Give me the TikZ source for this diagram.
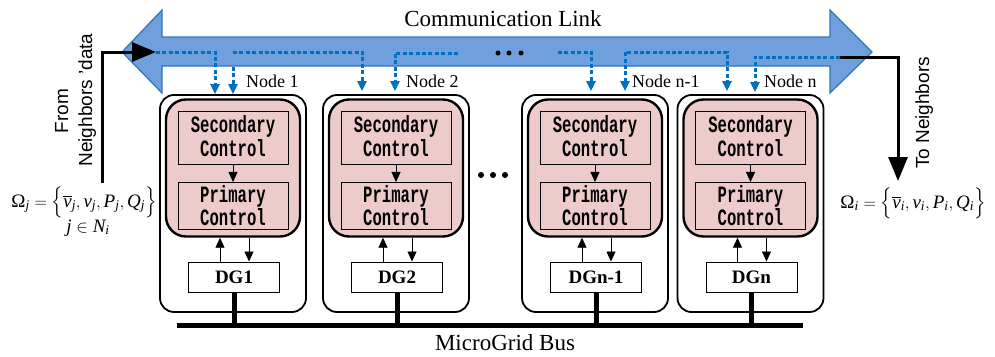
\documentclass[tikz,border=0pt]{standalone}
\usepackage{amsmath}
\usepackage{graphicx}
\usepackage{fontspec}
\setmainfont{Liberation Serif}
\newfontfamily\labelsans{Liberation Sans}
\newfontfamily\ctrlmono{Liberation Mono}
\usetikzlibrary{arrows.meta,calc}

\definecolor{linkfill}{HTML}{6F9FDC}
\definecolor{linkedge}{HTML}{2E75B6}
\definecolor{datablue}{HTML}{0070C0}
\definecolor{ctrlpink}{HTML}{EECBCB}

% two-line label of a control block, stretched upright like a CJK mono face;
% #1 lowers the lettering inside its box without changing the box
\newcommand{\ctrltext}[3]{\raisebox{-#1}[\height][\depth]{\scalebox{1}[1.5]{\begin{tabular}{@{}c@{}}#2\\#3\end{tabular}}}}

\tikzset{
  outerbox/.style={draw, line width=1.8pt, rounded corners=14pt, fill=white,
    minimum width=146pt, minimum height=217pt, inner sep=0pt},
  pinkbox/.style={draw, line width=2.4pt, rounded corners=20pt, fill=ctrlpink,
    minimum width=134pt, minimum height=137pt, inner sep=0pt},
  ctrlbox/.style={draw, line width=0.9pt, fill=ctrlpink, inner sep=0pt,
    minimum width=110pt, minimum height=53pt,
    font=\ctrlmono\bfseries\fontsize{15.6}{14.7}\selectfont},
  dgbox/.style={draw, line width=1pt, fill=white, inner sep=0pt,
    minimum width=91pt, minimum height=30pt,
    font=\bfseries\fontsize{19}{22}\selectfont},
  thinarrow/.style={line width=0.9pt, -{Triangle[length=10pt,width=9pt]}},
  stub/.style={line width=5pt},
  dataline/.style={datablue, line width=3pt, dash pattern=on 4pt off 2.4pt,
    -{Triangle[length=10pt,width=9pt]}},
  bigarrow/.style={line width=3pt, -{Triangle[length=24pt,width=19pt]}},
  nodelabel/.style={font=\fontsize{18}{20}\selectfont, anchor=base west, inner sep=0pt},
  sidetext/.style={font=\labelsans\fontsize{19}{21}\selectfont, rotate=90,
    anchor=base, inner sep=0pt},
  formula/.style={font=\fontsize{19}{22}\selectfont, anchor=base, inner sep=0pt},
  dot/.style={circle, fill=black, inner sep=0pt, minimum size=#1}
}

% one distributed-generation unit: #1 name suffix, #2 centre x, #3 DG label
\newcommand{\dgunit}[3]{%
  \node[outerbox] (unit#1) at (#2,203.5) {};
  \node[pinkbox] (ctrl#1) at (#2,168) {};
  \node[ctrlbox] (sec#1) at (#2,137.5) {\ctrltext{2pt}{Secondary}{Control}};
  \node[ctrlbox, minimum height=42pt] (pri#1) at (#2,206) {\ctrltext{3pt}{Primary}{Control}};
  \node[dgbox] (dg#1) at (#2+1,277) {#3};
  \draw[thinarrow] (sec#1) -- (pri#1);
  \draw[thinarrow] ([xshift=-14pt]dg#1.north) -- ([xshift=-14pt]dg#1.north |- ctrl#1.south);
  \draw[thinarrow] ([xshift=15pt]dg#1.north |- ctrl#1.south) -- ([xshift=15pt]dg#1.north);
  \draw[stub] (dg#1.south) -- (dg#1.south |- bus);
}

\begin{document}
\begin{tikzpicture}[x=1pt, y=-1pt]
\useasboundingbox (0,0) rectangle (995,356);

% double-headed communication link
\draw[linkedge, fill=linkfill, line width=1.2pt, line join=miter]
  (122,52) -- (162,10) -- (162,37) -- (830,37) -- (830,10) -- (872,52)
  -- (830,93) -- (830,66) -- (162,66) -- (162,93) -- cycle;
\node[font=\fontsize{23}{25}\selectfont, anchor=base, inner sep=0pt] (linktitle)
  at (503,27) {Communication Link};
\node[dot=5pt] (ld1) at (498,53) {};
\node[dot=5pt] (ld2) at (509,53) {};
\node[dot=5pt] (ld3) at (521,53) {};

% microgrid bus
\coordinate (bus) at (177,325);
\coordinate (busend) at (803,325);
\draw[line width=5pt] (bus) -- (busend);
\node[font=\fontsize{23}{25}\selectfont, anchor=base, inner sep=0pt] (buslabel)
  at (505,350) {MicroGrid Bus};

% the units
\dgunit{1}{233}{DG1}
\dgunit{2}{396}{DG2}
\dgunit{3}{595}{DGn-1}
\dgunit{4}{750.5}{DGn}

\node[dot=6pt] (ud1) at (481,175) {};
\node[dot=6pt] (ud2) at (493,175) {};
\node[dot=6pt] (ud3) at (505,175) {};

\node[nodelabel] (lab1) at (246,87) {Node 1};
\node[nodelabel] (lab2) at (406,87) {Node 2};
\node[nodelabel] (lab3) at (632,87) {Node n-1};
\node[nodelabel] (lab4) at (764,87) {Node n};

% data exchanged with the neighbours
\coordinate (fromstart) at (102,183);
\coordinate (linkin) at (156,52);
\draw[bigarrow] (fromstart) |- (linkin);
\coordinate (linkout) at (840,57);
\coordinate (toend) at (898,181);
\draw[bigarrow] (linkout) -| (toend);

\node[sidetext] (fromA) at (68,111) {From};
\node[sidetext] (fromB) at (92,100) {Neighbors ’data};
\node[sidetext] (toN) at (929,113) {To Neighbors};

% data taps on the link
\draw[dataline] (linkin) -| ($(unit1.north)+(-18,0)$);
\draw[dataline] (233,67) -- (unit1.north);
\draw[dataline] (233,52) -| ($(unit2.north)+(-34,-3)$);
\draw[dataline] (458,53) -| ($(unit2.north)+(-1,-3)$);
\draw[dataline] (558,52) -| ($(unit3.north)+(-4,-3)$);
\draw[dataline, {Triangle[length=10pt,width=9pt]}-{Triangle[length=10pt,width=9pt]}]
  ($(unit3.north)+(30,-3)$) |- (727,52) -- ($(unit4.north)+(-23.5,-3)$);
\draw[dataline] (linkout) -| ($(unit4.north)+(4.5,-2)$);

% data sets
\node[formula] (omegaj) at (84,207)
  {$\text{Ω}_{\mathit{j}}=\Big\{\overline{\mathit{v}}_{\mathit{j}},\mathit{v}_{\mathit{j}},\mathit{P}_{\mathit{j}},\mathit{Q}_{\mathit{j}}\Big\}$};
\node[formula] (jset) at (88,232) {$\mathit{j}\in \mathit{N}_{\mathit{i}}$};
\node[formula] (omegai) at (913,208)
  {$\text{Ω}_{\mathit{i}}=\Big\{\overline{\mathit{v}}_{\mathit{i}},\mathit{v}_{\mathit{i}},\mathit{P}_{\mathit{i}},\mathit{Q}_{\mathit{i}}\Big\}$};
\end{tikzpicture}
\end{document}
